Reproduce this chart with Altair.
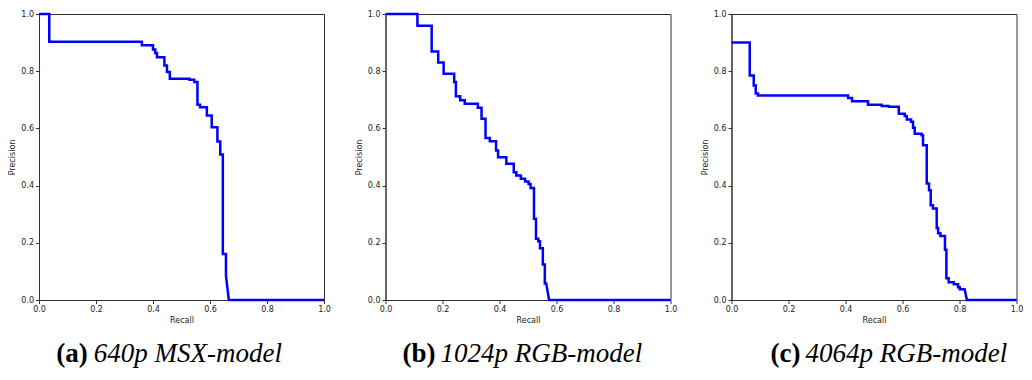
import altair as alt
import pandas as pd

# ---- data (step vertices of each precision-recall curve) ----
recall_a = [0.0, 0.036, 0.036, 0.361, 0.361, 0.400, 0.400, 0.408, 0.408, 0.414, 0.414, 0.440,
            0.440, 0.449, 0.449, 0.459, 0.459, 0.528, 0.528, 0.545, 0.545, 0.556, 0.556, 0.565,
            0.565, 0.589, 0.589, 0.606, 0.606, 0.626, 0.626, 0.636, 0.636, 0.645, 0.645, 0.656,
            0.656, 0.666, 1.0]
precision_a = [1.0, 1.0, 0.903, 0.903, 0.891, 0.891, 0.876, 0.876, 0.864, 0.864, 0.849, 0.849,
               0.820, 0.820, 0.797, 0.797, 0.774, 0.774, 0.770, 0.770, 0.762, 0.762, 0.683, 0.683,
               0.674, 0.674, 0.645, 0.645, 0.604, 0.604, 0.554, 0.554, 0.509, 0.509, 0.161, 0.161,
               0.085, 0.0, 0.0]

recall_b = [0.0, 0.112, 0.112, 0.162, 0.162, 0.185, 0.185, 0.204, 0.204, 0.241, 0.241, 0.247,
            0.247, 0.262, 0.262, 0.278, 0.278, 0.324, 0.324, 0.337, 0.337, 0.351, 0.351, 0.366,
            0.366, 0.388, 0.388, 0.395, 0.395, 0.424, 0.424, 0.450, 0.450, 0.459, 0.459, 0.475,
            0.475, 0.490, 0.490, 0.502, 0.502, 0.509, 0.509, 0.521, 0.521, 0.528, 0.528, 0.536,
            0.536, 0.542, 0.542, 0.552, 0.552, 0.559, 0.559, 0.564, 0.574, 1.0]
precision_b = [1.0, 1.0, 0.959, 0.959, 0.869, 0.869, 0.830, 0.830, 0.791, 0.791, 0.762, 0.762,
               0.712, 0.712, 0.698, 0.698, 0.686, 0.686, 0.672, 0.672, 0.634, 0.634, 0.566, 0.566,
               0.555, 0.555, 0.523, 0.523, 0.499, 0.499, 0.476, 0.476, 0.447, 0.447, 0.435, 0.435,
               0.424, 0.424, 0.414, 0.414, 0.406, 0.406, 0.392, 0.392, 0.284, 0.284, 0.214, 0.214,
               0.205, 0.205, 0.181, 0.181, 0.124, 0.124, 0.058, 0.058, 0.0, 0.0]

recall_c = [0.0, 0.064, 0.064, 0.078, 0.078, 0.085, 0.085, 0.093, 0.093, 0.409, 0.409, 0.423,
            0.423, 0.479, 0.479, 0.527, 0.527, 0.552, 0.552, 0.587, 0.587, 0.608, 0.608, 0.615,
            0.615, 0.630, 0.630, 0.637, 0.637, 0.643, 0.643, 0.667, 0.667, 0.672, 0.672, 0.685,
            0.685, 0.693, 0.693, 0.699, 0.699, 0.707, 0.707, 0.720, 0.720, 0.725, 0.725, 0.733,
            0.733, 0.749, 0.749, 0.754, 0.754, 0.762, 0.762, 0.780, 0.780, 0.795, 0.795, 0.801,
            0.801, 0.818, 0.826, 1.0]
precision_c = [0.900, 0.900, 0.785, 0.785, 0.750, 0.750, 0.722, 0.722, 0.715, 0.715, 0.706, 0.706,
               0.695, 0.695, 0.683, 0.683, 0.678, 0.678, 0.676, 0.676, 0.651, 0.651, 0.643, 0.643,
               0.631, 0.631, 0.623, 0.623, 0.602, 0.602, 0.581, 0.581, 0.576, 0.576, 0.541, 0.541,
               0.407, 0.407, 0.384, 0.384, 0.331, 0.331, 0.320, 0.320, 0.252, 0.252, 0.233, 0.233,
               0.224, 0.224, 0.176, 0.176, 0.076, 0.076, 0.062, 0.062, 0.055, 0.055, 0.045, 0.045,
               0.038, 0.038, 0.0, 0.0]

tags = ["(a)", "(b)", "(c)"]
captions = ["640p MSX-model", "1024p RGB-model", "4064p RGB-model"]
tick_values = [0.0, 0.2, 0.4, 0.6, 0.8, 1.0]

# caption placement (pixels, relative to each plot area)
tag_right = [48.8, 50, 69]
caption_left = [54.8, 55, 74]
caption_y = 340

W, H = 285, 286


def panel(rec, prec, tag, caption, tx, cx):
    df = pd.DataFrame({"recall": rec, "precision": prec, "idx": list(range(len(rec)))})
    line = alt.Chart(df).mark_line(color="#0000ff", strokeWidth=2.5, clip=False).encode(
        x=alt.X("recall:Q",
                scale=alt.Scale(domain=[0, 1], nice=False, zero=False),
                axis=alt.Axis(title="Recall", values=tick_values, format=".1f")),
        y=alt.Y("precision:Q",
                scale=alt.Scale(domain=[0, 1], nice=False, zero=False),
                axis=alt.Axis(title="Precision", values=tick_values, format=".1f")),
        order="idx:Q",
    )
    tag_mark = alt.Chart(pd.DataFrame({"t": [tag]})).mark_text(
        font="Liberation Serif", fontWeight="bold", fontSize=27,
        align="right", baseline="middle", color="black",
    ).encode(text="t:N", x=alt.value(tx), y=alt.value(caption_y))
    cap_mark = alt.Chart(pd.DataFrame({"t": [caption]})).mark_text(
        font="Liberation Serif", fontStyle="italic", fontSize=27,
        align="left", baseline="middle", color="black",
    ).encode(text="t:N", x=alt.value(cx), y=alt.value(caption_y))
    return alt.layer(line, tag_mark, cap_mark).properties(width=W, height=H)


pa = panel(recall_a, precision_a, tags[0], captions[0], tag_right[0], caption_left[0])
pb = panel(recall_b, precision_b, tags[1], captions[1], tag_right[1], caption_left[1])
pc = panel(recall_c, precision_c, tags[2], captions[2], tag_right[2], caption_left[2])

chart = alt.hconcat(alt.hconcat(pa, pb, spacing=23.5), pc, spacing=22.5).properties(
    padding={"left": 0, "top": 0, "right": 0, "bottom": 0}
).configure_view(
    stroke="#333333", strokeWidth=1
).configure_axis(
    grid=False,
    domainColor="#333333",
    tickColor="#333333",
    tickSize=3.5,
    labelFont="DejaVu Sans",
    labelFontSize=8,
    labelColor="#222222",
    labelPadding=2,
    labelFlush=False,
    labelOverlap=False,
    titleFont="DejaVu Sans",
    titleFontSize=8,
    titleFontWeight="normal",
    titleColor="#222222",
).configure_axisX(
    titlePadding=3
).configure_axisY(
    titlePadding=4
)

chart.save("out.html", embed_options={"renderer": "svg", "actions": False})
